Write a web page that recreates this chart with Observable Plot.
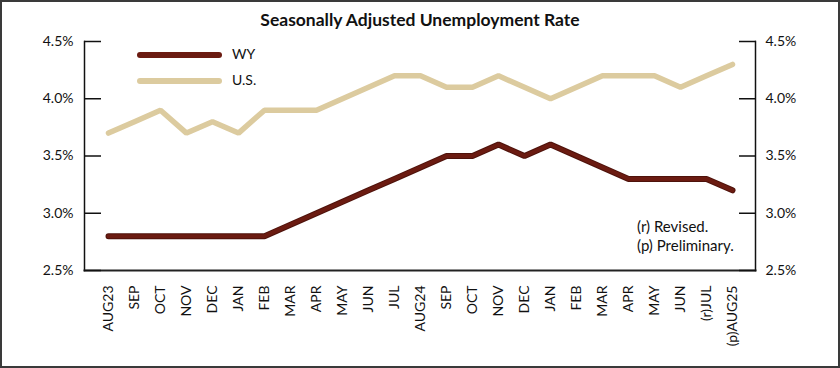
<!DOCTYPE html>
<html>
<head>
<meta charset="utf-8">
<script src="https://cdn.jsdelivr.net/npm/d3@7"></script>
<script src="https://cdn.jsdelivr.net/npm/@observablehq/plot@0.6"></script>
<style>
  html, body { margin: 0; padding: 0; background: #fff; }
  #wrap { position: relative; width: 840px; height: 368px; font-family: Lato, "Open Sans", sans-serif; color: #111; }
  #border { position: absolute; left: 0; top: 0; width: 840px; height: 368px; box-sizing: border-box; border: 2px solid #3a3a3a; pointer-events: none; }
  #title { position: absolute; left: 0; width: 840px; top: 9px; text-align: center; font-weight: bold; font-size: 17.5px; }
  .leg { position: absolute; left: 137px; width: 232px; height: 20px; }
  .leg .sw { position: absolute; left: 0; top: 7px; width: 85px; height: 6px; border-radius: 3px; }
  .leg .lb { position: absolute; left: 95px; top: 0px; font-size: 14px; }
  .note { position: absolute; left: 637px; font-size: 15px; }
</style>
</head>
<body>
<div id="wrap">
  <div id="chart"></div>
  <div id="title">Seasonally Adjusted Unemployment Rate</div>
  <div class="leg" style="top:45px"><div class="sw" style="background:#6b1b11"></div><div class="lb">WY</div></div>
  <div class="leg" style="top:71px"><div class="sw" style="background:#dccb9f"></div><div class="lb">U.S.</div></div>
  <div class="note" style="top:217px">(r) Revised.</div>
  <div class="note" style="top:236px">(p) Preliminary.</div>
  <div id="border"></div>
</div>
<script>
const months = ["AUG23","SEP","OCT","NOV","DEC","JAN","FEB","MAR","APR","MAY","JUN","JUL",
                "AUG24","SEP","OCT","NOV","DEC","JAN","FEB","MAR","APR","MAY","JUN","(r)JUL","(p)AUG25"];
const wy = [2.8,2.8,2.8,2.8,2.8,2.8,2.8,2.9,3.0,3.1,3.2,3.3,3.4,3.5,3.5,3.6,3.5,3.6,3.5,3.4,3.3,3.3,3.3,3.3,3.2];
const us = [3.7,3.8,3.9,3.7,3.8,3.7,3.9,3.9,3.9,4.0,4.1,4.2,4.2,4.1,4.1,4.2,4.1,4.0,4.1,4.2,4.2,4.2,4.1,4.2,4.3];
const yTicks = [2.5,3.0,3.5,4.0,4.5];

const idx = d3.range(months.length);
const wyData = idx.map(i => ({i, v: wy[i]}));
const usData = idx.map(i => ({i, v: us[i]}));
const fmt = d => d3.format(".1%")(d / 100);

const chart = Plot.plot({
  width: 840,
  height: 368,
  marginLeft: 84,
  marginRight: 85,
  marginTop: 41,
  marginBottom: 98,
  style: {fontFamily: "Lato, 'Open Sans', sans-serif", fontSize: "14px", color: "#111", background: "transparent"},
  x: {type: "point", domain: idx, padding: 0.5},
  y: {domain: [2.5, 4.5]},
  marks: [
    Plot.line(usData, {x: "i", y: "v", stroke: "#dccb9f", strokeWidth: 5.5, strokeLinejoin: "miter", strokeLinecap: "round"}),
    Plot.line(wyData, {x: "i", y: "v", stroke: "#4e120b", strokeWidth: 6, strokeLinejoin: "miter", strokeLinecap: "round"}),
    Plot.line(wyData, {x: "i", y: "v", stroke: "#6b1b11", strokeWidth: 4, strokeLinejoin: "miter", strokeLinecap: "round"}),
    Plot.frame({anchor: "left", stroke: "#111", strokeWidth: 1.5}),
    Plot.frame({anchor: "right", stroke: "#111", strokeWidth: 1.5}),
    Plot.frame({anchor: "bottom", stroke: "#222", strokeWidth: 2}),
    Plot.axisY(yTicks, {anchor: "left", tickSize: 17, tickPadding: 11, dx: 17, tickFormat: fmt, label: null, stroke: "#111", strokeWidth: 1.5}),
    Plot.axisY(yTicks, {anchor: "right", tickSize: 17, tickPadding: 10, dx: -17, tickFormat: fmt, label: null, stroke: "#111", strokeWidth: 1.5}),
    Plot.axisX(idx, {anchor: "bottom", tickSize: 0, tickPadding: 15, tickRotate: -90, tickFormat: i => months[i], label: null})
  ]
});
document.getElementById("chart").appendChild(chart);
</script>
</body>
</html>
